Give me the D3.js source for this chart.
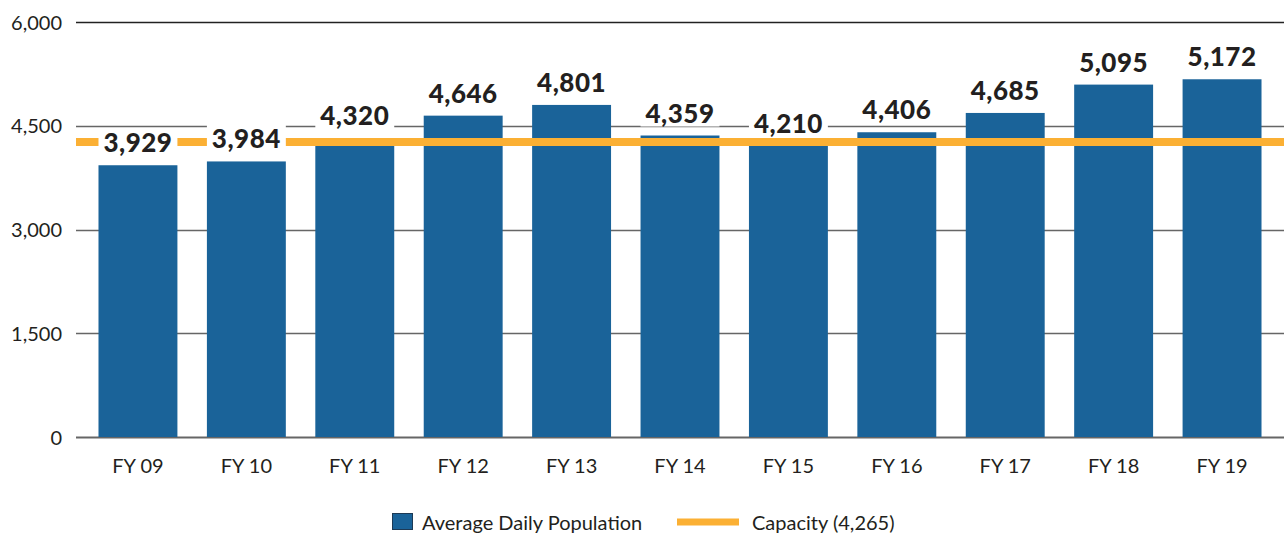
<!DOCTYPE html>
<html><head><meta charset="utf-8">
<script src="https://cdn.jsdelivr.net/npm/d3@7/dist/d3.min.js"></script>
<style>body{margin:0;background:#fff}svg{display:block}text{font-family:Lato,"Open Sans",sans-serif}</style>
</head><body><svg id="c" width="1284" height="539"></svg>
<script>
const categories = ["FY 09","FY 10","FY 11","FY 12","FY 13","FY 14","FY 15","FY 16","FY 17","FY 18","FY 19"];
const population = [3929,3984,4320,4646,4801,4359,4210,4406,4685,5095,5172];
const capacity = 4265;
const yTicks = [0,1500,3000,4500,6000];
const seriesNames = ["Average Daily Population","Capacity (4,265)"];

const svg = d3.select("#c");
const barColor = "#1a6399", capColor = "#fbb034", ink = "#231f20";
const x = d3.scaleBand().domain(categories).range([83.75, 1276.25]).paddingInner(0.272).paddingOuter(0.136);
const y = d3.scaleLinear().domain([0,6000]).range([437,22]);
const fmt = d3.format(",");

// gridlines
svg.append("g").selectAll("line").data(yTicks).join("line")
  .attr("x1",76).attr("x2",1284).attr("y1",d=>Math.round(y(d))+0.5).attr("y2",d=>Math.round(y(d))+0.5)
  .attr("stroke",d=>d===6000?"#222":"#666").attr("stroke-width",d=>d===0?2:1.3);

// y axis labels
const yAxis = d3.axisLeft(y).tickValues(yTicks).tickFormat(fmt).tickSize(0).tickPadding(0);
const ga = svg.append("g").attr("transform","translate(62,0)").call(yAxis);
ga.select(".domain").remove();
ga.selectAll("text").attr("font-size",20).attr("fill",ink).attr("font-family","Lato,sans-serif").attr("dy","0.35em");

// bars
svg.append("g").selectAll("rect").data(population).join("rect")
  .attr("x",(d,i)=>x(categories[i])).attr("width",x.bandwidth())
  .attr("y",d=>y(d)).attr("height",d=>y(0)-y(d)).attr("fill",barColor);

// capacity line
svg.append("line").attr("x1",76).attr("x2",1284).attr("y1",y(capacity)).attr("y2",y(capacity))
  .attr("stroke",capColor).attr("stroke-width",8);

// value labels with white boxes
const lab = svg.append("g").selectAll("g").data(population).join("g");
lab.append("rect").attr("x",(d,i)=>x(categories[i])).attr("width",x.bandwidth())
  .attr("y",d=>y(d)-13-24).attr("height",28).attr("fill","#fff");
lab.append("text").attr("x",(d,i)=>x(categories[i])+x.bandwidth()/2).attr("y",d=>y(d)-13)
  .attr("text-anchor","middle").attr("font-size",26).attr("font-weight",900).attr("fill",ink)
  .attr("letter-spacing","0.5").text(d=>fmt(d));

// x labels
const xAxis = d3.axisBottom(x).tickSize(0).tickPadding(0);
const gx = svg.append("g").attr("transform","translate(0,473)").call(xAxis);
gx.select(".domain").remove();
gx.selectAll("text").attr("font-size",20).attr("fill",ink).attr("font-family","Lato,sans-serif").attr("dy",0);

// legend
const lg = svg.append("g");
lg.append("rect").attr("x",392.5).attr("y",513.5).attr("width",20).attr("height",16).attr("fill",barColor).attr("stroke","#1d3a55").attr("stroke-width",1);
lg.append("text").attr("x",422).attr("y",530).attr("font-size",20).attr("fill",ink).text(seriesNames[0]);
lg.append("line").attr("x1",677).attr("x2",739).attr("y1",522).attr("y2",522).attr("stroke",capColor).attr("stroke-width",7);
lg.append("text").attr("x",752).attr("y",530).attr("font-size",20).attr("fill",ink).text(seriesNames[1]);
</script></body></html>
